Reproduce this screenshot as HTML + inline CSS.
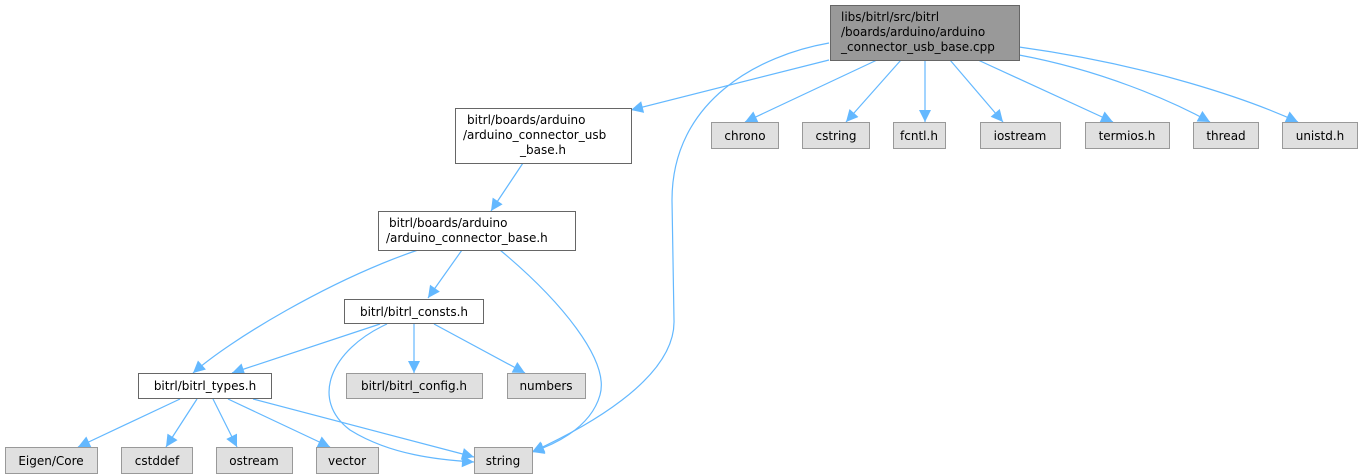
<!DOCTYPE html>
<html><head><meta charset="utf-8"><style>
html,body{margin:0;padding:0;background:#fff;width:1362px;height:476px;overflow:hidden}
svg text{font-family:"DejaVu Sans","Liberation Sans",sans-serif;font-size:12px;fill:#000}
</style></head><body>
<svg width="1362" height="476" viewBox="0 0 1362 476" xmlns="http://www.w3.org/2000/svg">
<defs><marker id="a" viewBox="0 0 10 10" refX="10" refY="5" markerWidth="13" markerHeight="12" markerUnits="userSpaceOnUse" orient="auto"><path d="M0,0L10,5L0,10z" fill="#63b8ff"/></marker></defs>
<g fill="none" stroke="#63b8ff" stroke-width="1.2" marker-end="url(#a)">
<path d="M829,60L631,110"/>
<path d="M829,43C760,55 672,100 672,200L674,320C676,380 580,430 532,452"/>
<path d="M877,60L745,122"/>
<path d="M901,60L846,122"/>
<path d="M925,60L925,122"/>
<path d="M950,60L1003,122"/>
<path d="M978,60L1113,122"/>
<path d="M1019,55C1100,70 1170,100 1210,122"/>
<path d="M1019,47C1150,65 1250,100 1298,122"/>
<path d="M523,163L491,211"/>
<path d="M462,250L428,298"/>
<path d="M418,250C330,280 230,340 193,373"/>
<path d="M500,250C560,300 610,360 600,395C590,430 550,446 532,452"/>
<path d="M380,324L232,373"/>
<path d="M414,324L414,373"/>
<path d="M434,324L525,373"/>
<path d="M387,324C330,350 310,400 350,430C390,455 440,460 474,462"/>
<path d="M180,399L78,447"/>
<path d="M197,399L166,447"/>
<path d="M213,399L237,447"/>
<path d="M228,399L330,447"/>
<path d="M253,399L474,457"/>
</g>
<g stroke-width="1">
<rect x="830.5" y="5.5" width="189" height="55" fill="#999" stroke="#666"/>
<rect x="455.5" y="108.5" width="176" height="55" fill="#fff" stroke="#666"/>
<rect x="378.5" y="211.5" width="197" height="39" fill="#fff" stroke="#666"/>
<rect x="344.5" y="299.5" width="139" height="24" fill="#fff" stroke="#666"/>
<rect x="138.5" y="373.5" width="133" height="25" fill="#fff" stroke="#666"/>
<g fill="#e0e0e0" stroke="#999">
<rect x="711.5" y="122.5" width="67" height="26"/>
<rect x="802.5" y="122.5" width="67" height="26"/>
<rect x="893.5" y="122.5" width="52" height="26"/>
<rect x="980.5" y="122.5" width="80" height="26"/>
<rect x="1085.5" y="122.5" width="84" height="26"/>
<rect x="1193.5" y="122.5" width="65" height="26"/>
<rect x="1282.5" y="122.5" width="75" height="26"/>
<rect x="346.5" y="373.5" width="136" height="25"/>
<rect x="507.5" y="373.5" width="78" height="25"/>
<rect x="5.5" y="447.5" width="92" height="26"/>
<rect x="121.5" y="447.5" width="71" height="26"/>
<rect x="216.5" y="447.5" width="76" height="26"/>
<rect x="316.5" y="447.5" width="62" height="26"/>
<rect x="474.5" y="447.5" width="58" height="26"/>
</g></g>
<text x="841" y="21">libs/bitrl/src/bitrl</text>
<text x="841" y="36">/boards/arduino/arduino</text>
<text x="841" y="51">_connector_usb_base.cpp</text>
<text x="467" y="124">bitrl/boards/arduino</text>
<text x="463" y="139">/arduino_connector_usb</text>
<text x="543" y="154" text-anchor="middle">_base.h</text>
<text x="389" y="227">bitrl/boards/arduino</text>
<text x="386" y="242">/arduino_connector_base.h</text>
<text x="414" y="316" text-anchor="middle">bitrl/bitrl_consts.h</text>
<text x="205" y="390" text-anchor="middle">bitrl/bitrl_types.h</text>
<text x="414" y="390" text-anchor="middle">bitrl/bitrl_config.h</text>
<text x="546" y="390" text-anchor="middle">numbers</text>
<text x="745" y="140" text-anchor="middle">chrono</text>
<text x="836" y="140" text-anchor="middle">cstring</text>
<text x="919" y="140" text-anchor="middle">fcntl.h</text>
<text x="1020" y="140" text-anchor="middle">iostream</text>
<text x="1127" y="140" text-anchor="middle">termios.h</text>
<text x="1226" y="140" text-anchor="middle">thread</text>
<text x="1320" y="140" text-anchor="middle">unistd.h</text>
<text x="51" y="465" text-anchor="middle">Eigen/Core</text>
<text x="157" y="465" text-anchor="middle">cstddef</text>
<text x="254" y="465" text-anchor="middle">ostream</text>
<text x="347" y="465" text-anchor="middle">vector</text>
<text x="503" y="465" text-anchor="middle">string</text>
</svg>
</body></html>
